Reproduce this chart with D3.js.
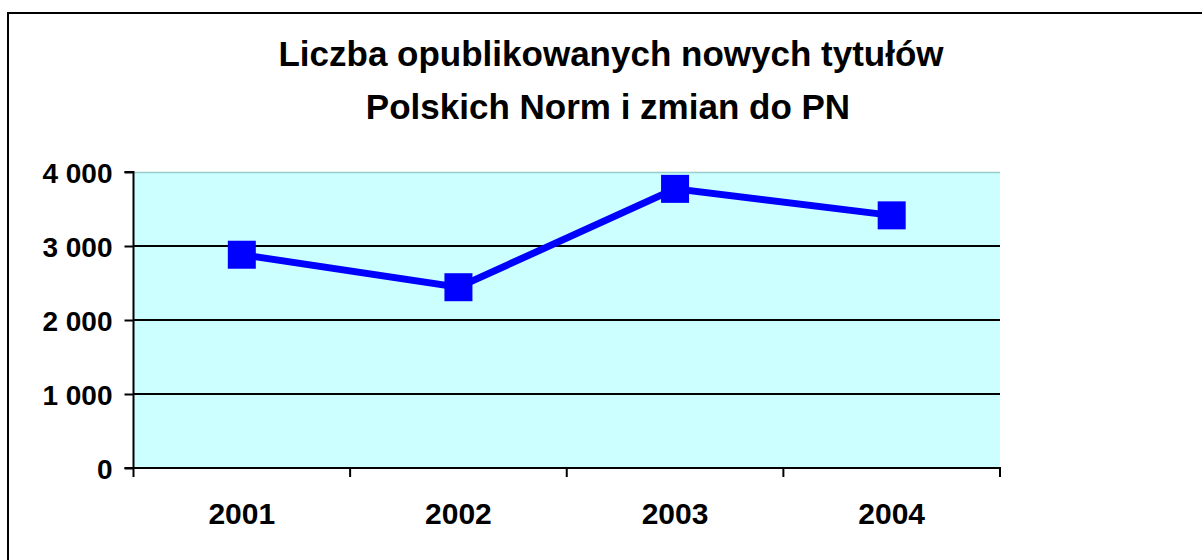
<!DOCTYPE html>
<html>
<head>
<meta charset="utf-8">
<script src="https://cdn.jsdelivr.net/npm/d3@7"></script>
<style>
html,body{margin:0;padding:0;background:#fff;}
svg{display:block;}
text{font-family:"Liberation Sans",Arial,sans-serif;font-weight:bold;fill:#000;}
</style>
</head>
<body>
<svg id="chart" width="1202" height="560"></svg>
<script>
const titleLines = ["Liczba opublikowanych nowych tytułów", "Polskich Norm i zmian do PN"];
const categories = ["2001", "2002", "2003", "2004"];
const values = [2882, 2443, 3772, 3414];
const yTicks = [0, 1000, 2000, 3000, 4000];

const svg = d3.select("#chart");
const plot = {left: 133.5, right: 1000, top: 172, bottom: 468};

// outer frame
svg.append("rect")
  .attr("x", 8).attr("y", 13).attr("width", 1210).attr("height", 600)
  .attr("fill", "none").attr("stroke", "#000").attr("stroke-width", 2);

// title
svg.append("text").attr("x", 611).attr("y", 66).attr("text-anchor", "middle")
  .style("font-size", "35px").text(titleLines[0]);
svg.append("text").attr("x", 608).attr("y", 119).attr("text-anchor", "middle")
  .style("font-size", "35px").text(titleLines[1]);

const x = d3.scaleBand().domain(categories).range([plot.left, plot.right]).padding(0);
const y = d3.scaleLinear().domain([0, 4000]).range([plot.bottom, plot.top]);

// plot background
svg.append("rect")
  .attr("x", plot.left).attr("y", plot.top)
  .attr("width", plot.right - plot.left).attr("height", plot.bottom - plot.top)
  .attr("fill", "#ccffff");
svg.append("line")
  .attr("x1", plot.left).attr("x2", plot.right)
  .attr("y1", plot.top + 0.5).attr("y2", plot.top + 0.5)
  .attr("stroke", "#99cccc").attr("stroke-width", 1.5);

// gridlines
svg.append("g").selectAll("line").data(yTicks.filter(d => d > 0 && d < 4000)).join("line")
  .attr("x1", plot.left).attr("x2", plot.right)
  .attr("y1", d => y(d)).attr("y2", d => y(d))
  .attr("stroke", "#000").attr("stroke-width", 2);

// y axis
const fmt = d => d === 0 ? "0" : d3.format(",")(d).replace(",", " ");
const yAxis = d3.axisLeft(y).tickValues(yTicks).tickSize(9).tickPadding(12).tickFormat(fmt);
const gy = svg.append("g").attr("transform", `translate(${plot.left},0)`).call(yAxis);
gy.select(".domain").attr("stroke", "#000").attr("stroke-width", 2)
  .attr("d", `M-9,${plot.top}H0V${plot.bottom}`);
gy.selectAll(".tick line").attr("stroke", "#000").attr("stroke-width", 2);
gy.selectAll(".tick text").style("font-size", "28px").style("font-family", '"Liberation Sans",Arial,sans-serif')
  .style("font-weight", "bold").attr("fill", "#000").attr("dy", "0.36em");

// x axis
const gx = svg.append("g").attr("transform", `translate(0,${plot.bottom})`);
gx.append("line").attr("x1", plot.left - 9).attr("x2", plot.right + 1)
  .attr("y1", 0).attr("y2", 0).attr("stroke", "#000").attr("stroke-width", 2);
const bounds = categories.map(c => x(c)).concat([x(categories[categories.length - 1]) + x.bandwidth()]);
gx.selectAll("line.tk").data(bounds).join("line").attr("class", "tk")
  .attr("x1", d => d).attr("x2", d => d).attr("y1", 0).attr("y2", 9)
  .attr("stroke", "#000").attr("stroke-width", 2);
gx.selectAll("text").data(categories).join("text")
  .attr("x", d => x(d) + x.bandwidth() / 2).attr("y", 56)
  .attr("text-anchor", "middle").style("font-size", "30px").text(d => d);

// line
const line = d3.line().x((d, i) => x(categories[i]) + x.bandwidth() / 2).y(d => y(d));
svg.append("path").datum(values).attr("d", line)
  .attr("fill", "none").attr("stroke", "#0000ff").attr("stroke-width", 7)
  .attr("stroke-linejoin", "miter");

// markers
const ms = 28;
svg.append("g").selectAll("rect").data(values).join("rect")
  .attr("x", (d, i) => x(categories[i]) + x.bandwidth() / 2 - ms / 2)
  .attr("y", d => y(d) - ms / 2)
  .attr("width", ms).attr("height", ms)
  .attr("fill", "#0000ff");
</script>
</body>
</html>
